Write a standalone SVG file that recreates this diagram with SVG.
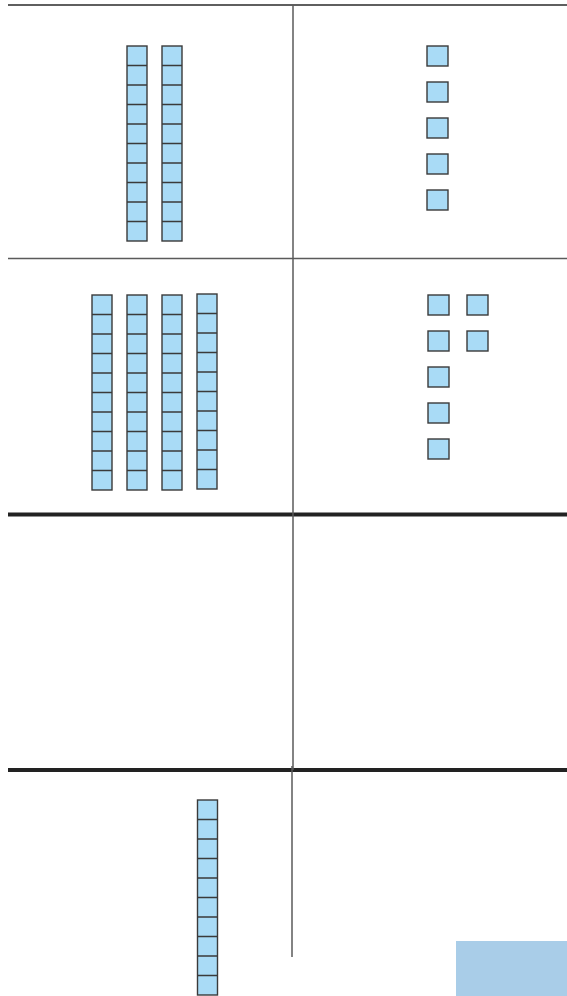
<svg xmlns="http://www.w3.org/2000/svg" width="567" height="996" viewBox="0 0 567 996">
<style>
.cell{fill:#a9dbf6;stroke:#3a3a3a;stroke-width:1.4}
.thin{stroke:#2a2a2a;stroke-width:1.5;fill:none}
.gray{stroke:#5a5a5a;stroke-width:1.5;fill:none}
.thick{stroke:#222;stroke-width:4;fill:none}
</style>
<defs>
<g id="rod">
<rect class="cell" x="0" y="0" width="20" height="195"/>
<path class="cell" d="M0 19.5H20M0 39H20M0 58.5H20M0 78H20M0 97.5H20M0 117H20M0 136.5H20M0 156H20M0 175.5H20"/>
</g>
<rect id="one" class="cell" x="0" y="0" width="21" height="20"/>
</defs>
<rect width="567" height="996" fill="#fff"/>
<g id="grid">
<line class="thin" x1="8" y1="5" x2="567" y2="5"/>
<line class="gray" x1="8" y1="258.5" x2="567" y2="258.5"/>
<line class="thick" x1="8" y1="514.5" x2="567" y2="514.5"/>
<line class="thick" x1="8" y1="770" x2="567" y2="770"/>
<line class="gray" x1="293" y1="5" x2="293" y2="770"/>
<line class="gray" x1="292" y1="766" x2="292" y2="957"/>
</g>
<g id="tens-1">
<use href="#rod" x="127" y="46"/>
<use href="#rod" x="162" y="46"/>
</g>
<g id="ones-1">
<use href="#one" x="427" y="46"/>
<use href="#one" x="427" y="82"/>
<use href="#one" x="427" y="118"/>
<use href="#one" x="427" y="154"/>
<use href="#one" x="427" y="190"/>
</g>
<g id="tens-2">
<use href="#rod" x="92" y="295"/>
<use href="#rod" x="127" y="295"/>
<use href="#rod" x="162" y="295"/>
<use href="#rod" x="197" y="294"/>
</g>
<g id="ones-2">
<use href="#one" x="428" y="295"/>
<use href="#one" x="467" y="295"/>
<use href="#one" x="428" y="331"/>
<use href="#one" x="467" y="331"/>
<use href="#one" x="428" y="367"/>
<use href="#one" x="428" y="403"/>
<use href="#one" x="428" y="439"/>
</g>
<g id="tens-4">
<use href="#rod" x="197.5" y="800"/>
</g>
<rect id="answer-box" x="456" y="941" width="111" height="55" fill="#a9cde8"/>
</svg>
